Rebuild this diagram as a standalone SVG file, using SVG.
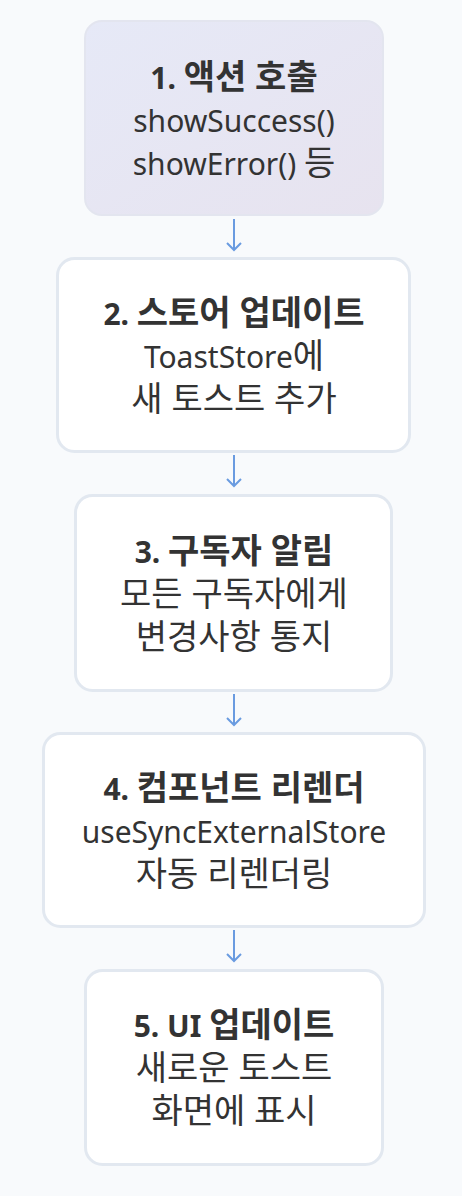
<svg xmlns="http://www.w3.org/2000/svg" width="462" height="1196" viewBox="0 0 462 1196">
<defs>
<linearGradient id="g1" x1="0" y1="0" x2="1" y2="1">
<stop offset="0" stop-color="#e6e9f7"/>
<stop offset="1" stop-color="#e7e3ef"/>
</linearGradient>
<marker id="ah" viewBox="0 0 10 16" refX="8" refY="8" markerWidth="10" markerHeight="16" markerUnits="userSpaceOnUse" orient="auto">
<path d="M1,1 L8,8 L1,15" fill="none" stroke="#6a9be0" stroke-width="2"/>
</marker>
<style>
.box{fill:#ffffff;stroke:#e2e8f0;stroke-width:3}
.t{font-family:"Noto Sans","Noto Sans CJK KR",sans-serif;font-size:34px;fill:#333333;text-anchor:middle}
.l{font-size:30px}
.b{font-weight:bold}
.c{stroke:#6a9be0;stroke-width:2;fill:none}
</style>
</defs>
<rect x="0" y="0" width="462" height="1196" fill="#f8fafc"/>
<g id="connectors">
<line class="c" x1="234" y1="219" x2="234" y2="250" marker-end="url(#ah)"/>
<line class="c" x1="234" y1="455" x2="234" y2="486" marker-end="url(#ah)"/>
<line class="c" x1="234" y1="694" x2="234" y2="725" marker-end="url(#ah)"/>
<line class="c" x1="234" y1="930" x2="234" y2="961" marker-end="url(#ah)"/>
</g>
<g id="node1">
<rect x="85" y="21" width="298" height="194" rx="17" fill="url(#g1)" stroke="#e3e5ef" stroke-width="2"/>
<text class="t b" x="234" y="89"><tspan class="l">1. </tspan>액션 호출</text>
<text class="t l" x="234" y="132">showSuccess()</text>
<text class="t" x="234" y="175"><tspan class="l">showError() </tspan>등</text>
</g>
<g id="node2">
<rect class="box" x="57.5" y="258.5" width="352" height="193" rx="17"/>
<text class="t b" x="234" y="325"><tspan class="l">2. </tspan>스토어 업데이트</text>
<text class="t" x="234" y="368"><tspan class="l">ToastStore</tspan>에</text>
<text class="t" x="234" y="411">새 토스트 추가</text>
</g>
<g id="node3">
<rect class="box" x="75.5" y="495.5" width="316" height="195" rx="17"/>
<text class="t b" x="234" y="563"><tspan class="l">3. </tspan>구독자 알림</text>
<text class="t" x="234" y="606">모든 구독자에게</text>
<text class="t" x="234" y="649">변경사항 통지</text>
</g>
<g id="node4">
<rect class="box" x="43.5" y="733.5" width="381" height="193" rx="17"/>
<text class="t b" x="234" y="800"><tspan class="l">4. </tspan>컴포넌트 리렌더</text>
<text class="t l" x="234" y="843">useSyncExternalStore</text>
<text class="t" x="234" y="886">자동 리렌더링</text>
</g>
<g id="node5">
<rect class="box" x="85.5" y="970.5" width="297" height="194" rx="17"/>
<text class="t b" x="234" y="1037"><tspan class="l">5. UI </tspan>업데이트</text>
<text class="t" x="234" y="1080">새로운 토스트</text>
<text class="t" x="234" y="1123">화면에 표시</text>
</g>
</svg>
